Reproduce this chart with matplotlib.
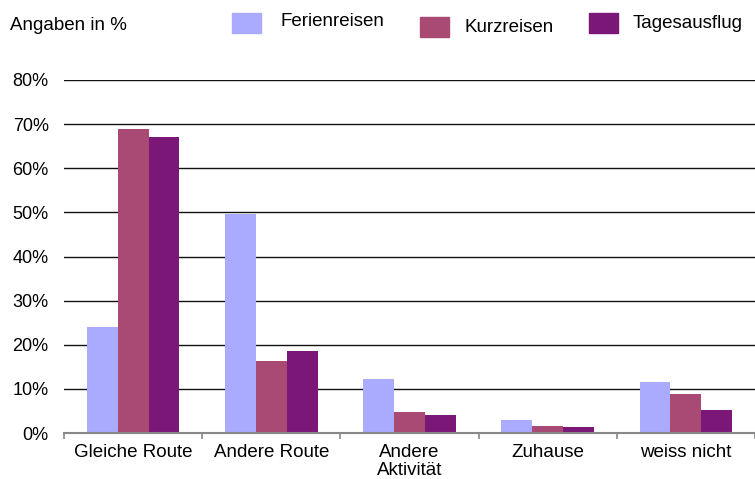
import numpy as np
import matplotlib

matplotlib.use("Agg")
import matplotlib.pyplot as plt
from matplotlib.patches import Rectangle
from matplotlib.ticker import FuncFormatter

plt.rcParams["font.family"] = ["Liberation Sans", "DejaVu Sans"]

categories = ["Gleiche Route", "Andere Route", "Andere\nAktivität", "Zuhause", "weiss nicht"]
series_names = ["Ferienreisen", "Kurzreisen", "Tagesausflug"]
ferienreisen = [24.1, 49.7, 12.2, 2.9, 11.6]
kurzreisen = [68.9, 16.3, 4.8, 1.6, 8.8]
tagesausflug = [67.1, 18.6, 4.1, 1.4, 5.2]
colors = ["#aaaaff", "#a94a75", "#7b1877"]

FS = 13.5

fig = plt.figure(figsize=(7.55, 4.79), dpi=100)
W, H = 755, 479
ax = fig.add_axes([64 / W, (H - 433) / H, (W - 64) / W, (433 - 80) / H])

x = np.arange(len(categories))
width = 0.223
for i, (vals, c) in enumerate(zip([ferienreisen, kurzreisen, tagesausflug], colors)):
    ax.bar(x + (i - 1) * width, vals, width, color=c, zorder=3)

ax.set_ylim(0, 80)
ax.set_xlim(-0.5, -0.5 + (W - 64) / 139.0)
ax.set_yticks(np.arange(0, 81, 10))
ax.yaxis.set_major_formatter(FuncFormatter(lambda v, _: f"{v:.0f}%"))
ax.grid(axis="y", color="#111111", linewidth=1.0, zorder=0)
ax.set_axisbelow(True)

for s in ["top", "right", "left"]:
    ax.spines[s].set_visible(False)
ax.spines["bottom"].set_color("#888888")
ax.spines["bottom"].set_linewidth(1.5)
ax.spines["bottom"].set_zorder(4)

ax.set_xticks(x)
ax.set_xticklabels(categories, fontsize=FS, linespacing=1.1)
ax.set_xticks(np.arange(len(categories) + 1) - 0.5, minor=True)
ax.tick_params(axis="x", which="major", length=0, pad=8)
ax.tick_params(axis="x", which="minor", length=4, color="#888888", width=1.2)
ax.tick_params(axis="y", length=0, pad=11, labelsize=13)

fig.text(10 / W, 1 - 25 / H, "Angaben in %", fontsize=FS, va="center", ha="left")

legend_items = [(232, 13, 280, 22), (420, 17, 465, 27), (589, 13, 633, 24)]
for (px, py, tx, ty), name, c in zip(legend_items, series_names, colors):
    fig.patches.append(Rectangle((px / W, 1 - (py + 20) / H), 29 / W, 20 / H,
                                 transform=fig.transFigure, color=c))
    fig.text(tx / W, 1 - ty / H, name, fontsize=FS, va="center", ha="left")

fig.savefig("out.png", dpi=100)
